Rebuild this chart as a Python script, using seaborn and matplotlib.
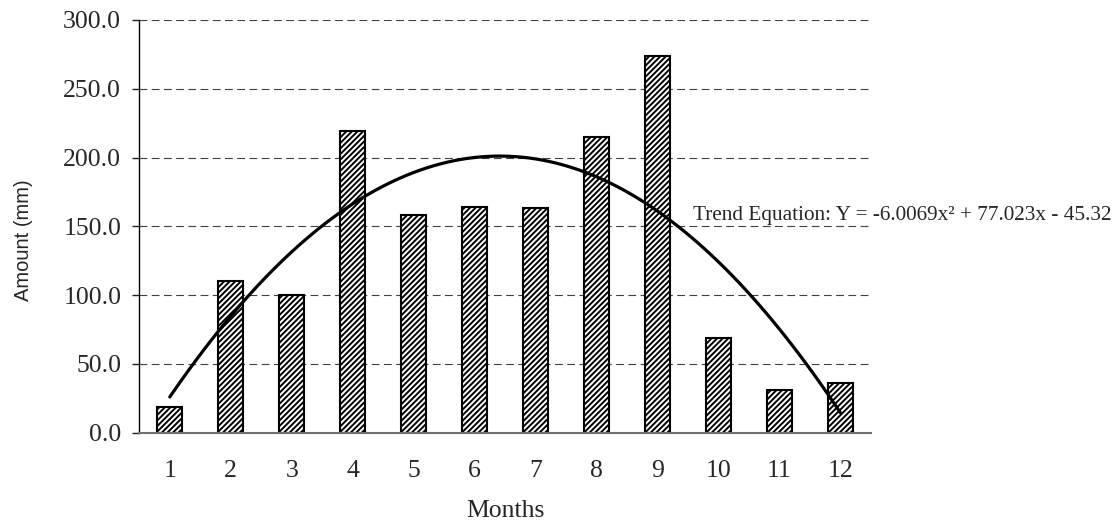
import numpy as np
import pandas as pd
import matplotlib
matplotlib.use("Agg")
import matplotlib.pyplot as plt
import seaborn as sns
from matplotlib.ticker import FixedLocator, FormatStrFormatter

months = [1, 2, 3, 4, 5, 6, 7, 8, 9, 10, 11, 12]
amounts = [19, 110, 100, 219, 158, 164, 163, 215, 274, 69, 31, 36]
y_ticks = [0, 50, 100, 150, 200, 250, 300]
equation_text = "Trend Equation: Y = -6.0069x\u00b2 + 77.023x - 45.32"

sns.set_style("white")
plt.rcParams["font.family"] = ["Liberation Serif", "DejaVu Serif"]
plt.rcParams["hatch.linewidth"] = 1.4
plt.rcParams["hatch.color"] = "black"

df = pd.DataFrame({"Month": months, "Amount": amounts})

fig = plt.figure(figsize=(11.18, 5.23), dpi=100)
ax = fig.add_axes([139.3 / 1118, 1 - 432.7 / 523, (870.8 - 139.3) / 1118, (432.7 - 20) / 523])

sns.barplot(data=df, x="Month", y="Amount", native_scale=True, width=0.405,
            color="white", edgecolor="black", linewidth=1.5, hatch="//////",
            errorbar=None, ax=ax, zorder=2)

sns.regplot(data=df, x="Month", y="Amount", order=2, ci=None, scatter=False,
            ax=ax, line_kws=dict(color="black", lw=2.3, zorder=3))

ax.set_xlim(0.5, 12.5)
ax.set_ylim(0, 300)
ax.set_yticks(y_ticks)
ax.yaxis.set_major_formatter(FormatStrFormatter("%.1f"))
ax.set_xticks(months)
ax.set_xticklabels([str(m) for m in months])
ax.xaxis.set_minor_locator(FixedLocator(np.arange(0.5, 13.0, 1.0)))

ax.tick_params(axis="x", which="major", length=0, pad=20, labelsize=18.5)
ax.tick_params(axis="x", which="minor", length=5, width=1, color="#404040", direction="out")
ax.tick_params(axis="y", which="major", length=5, width=1, color="#202020", direction="out",
               pad=8, labelsize=18.5, left=True)

ax.grid(axis="y", color="#404040", linestyle=(0, (7, 4)), linewidth=0.8, zorder=0)
ax.grid(axis="x", visible=False)
ax.set_axisbelow(True)

for s in ["top", "right"]:
    ax.spines[s].set_visible(False)
ax.spines["left"].set_color("black")
ax.spines["left"].set_linewidth(1.0)
ax.spines["bottom"].set_color("#707070")
ax.spines["bottom"].set_linewidth(1.5)

ax.set_ylabel("Amount (mm)", fontsize=14.5, family=["Liberation Sans", "DejaVu Sans"])
ax.yaxis.set_label_coords(-0.145, 0.467)
ax.set_xlabel("Months", fontsize=18.5)
ax.xaxis.set_label_coords(0.5, -0.204)
ax.xaxis.label.set_verticalalignment("baseline")

ax.text(9.584, 154.7, equation_text, fontsize=15.3, va="baseline", ha="left",
        clip_on=False, zorder=4)

fig.savefig("out.png", dpi=100)
